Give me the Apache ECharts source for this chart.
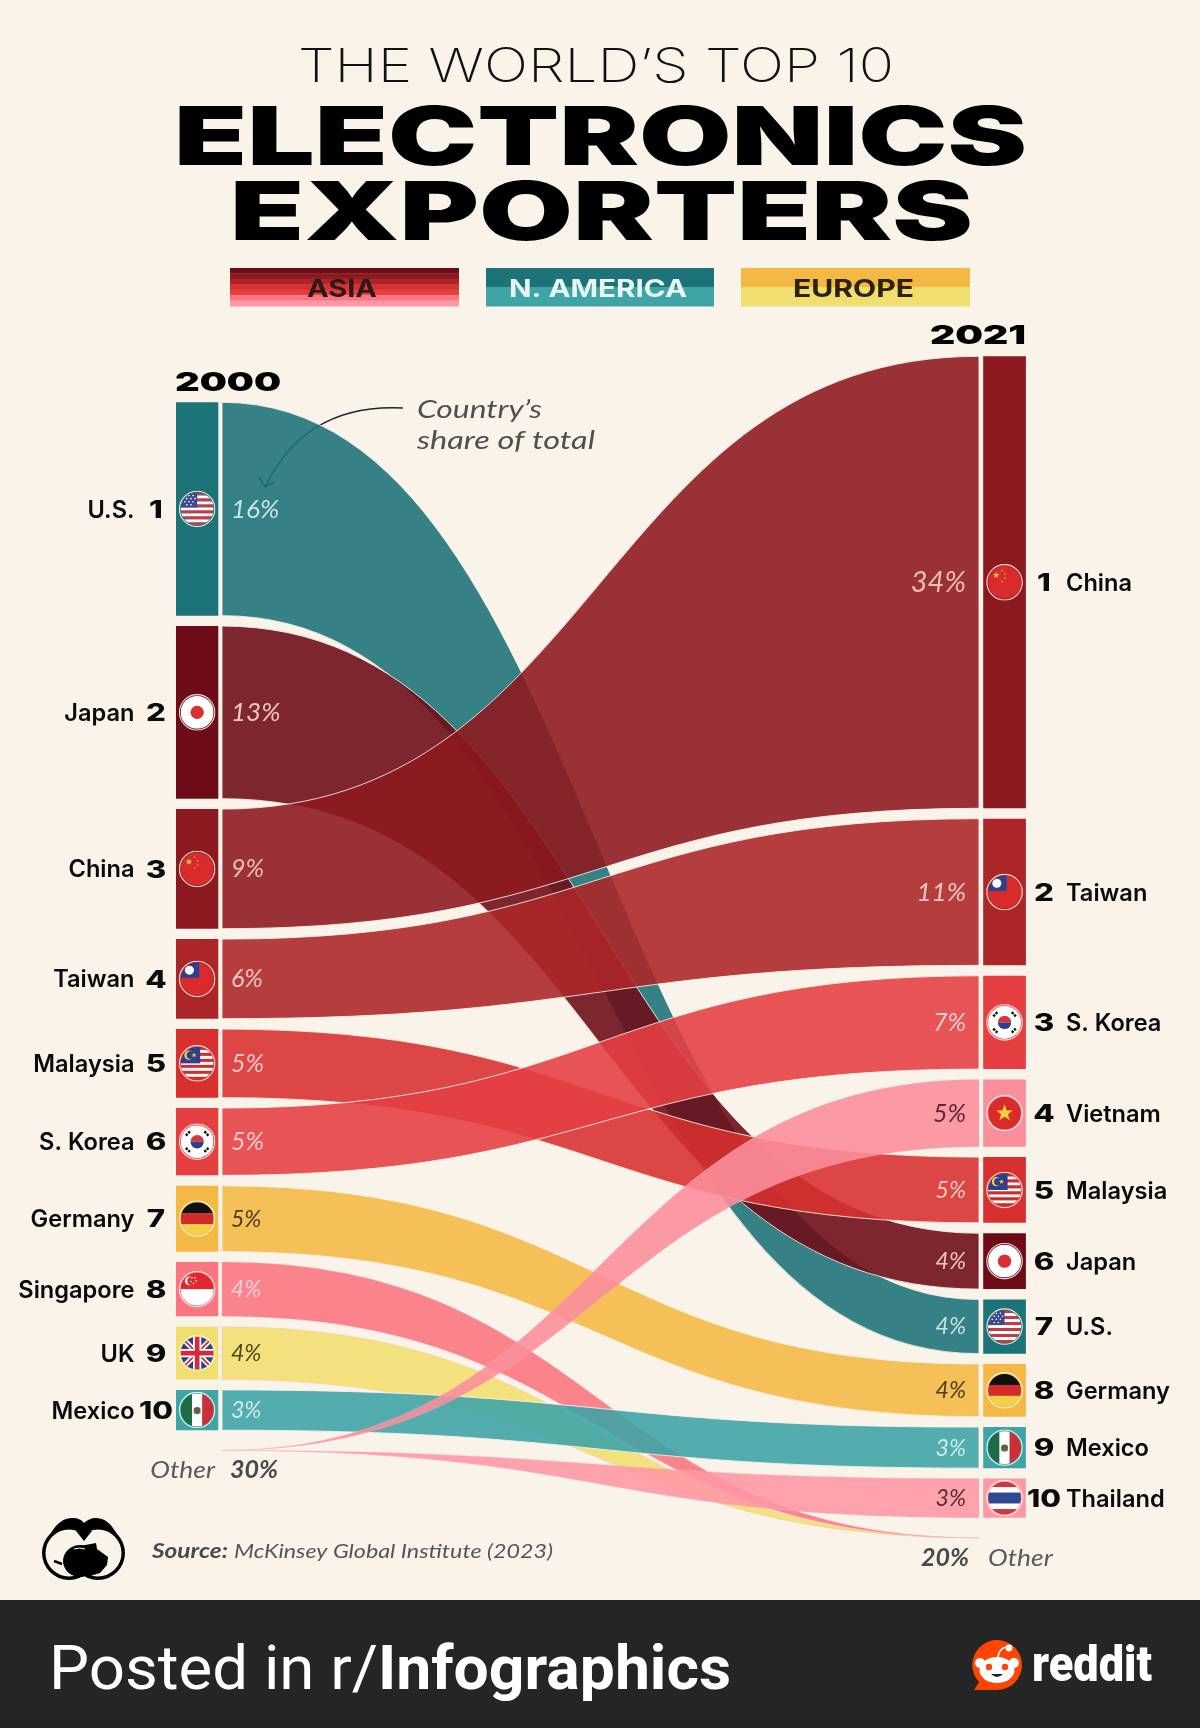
<!DOCTYPE html>
<html><head><meta charset="utf-8">
<style>html,body{margin:0;padding:0;background:#f9f3e9}#c{width:1200px;height:1728px}</style>
<script src="https://cdn.jsdelivr.net/npm/echarts@6/dist/echarts.min.js"></script>
</head><body><div id="c"></div>
<script>
// ---------- data ----------
const countries2000 = ['U.S.','Japan','China','Taiwan','Malaysia','S. Korea','Germany','Singapore','UK','Mexico'];
const shares2000    = [16.0,12.95,8.97,5.97,5.14,5.05,4.94,4.07,3.96,3.02];
const labels2000    = ['16%','13%','9%','6%','5%','5%','5%','4%','4%','3%'];
const countries2021 = ['China','Taiwan','S. Korea','Vietnam','Malaysia','Japan','U.S.','Germany','Mexico','Thailand'];
const shares2021    = [33.9,11.0,7.0,5.04,4.93,4.19,4.06,3.95,3.08,2.93];
const labels2021    = ['34%','11%','7%','5%','5%','4%','4%','4%','3%','3%'];
const otherLabel2000 = '30%';
const otherLabel2021 = '20%';
const years = [2000, 2021];
const legendNames = ['ASIA','N. AMERICA','EUROPE'];

// ---------- styles ----------
const CREAM='#f9f3e9';
const barColor={'U.S.':'#1c7378','Japan':'#6d0c18','China':'#8c191f','Taiwan':'#ac2627','Malaysia':'#d8302f','S. Korea':'#e53f42',
  'Germany':'#f3b944','Singapore':'#fb7680','UK':'#f0de6e','Mexico':'#3ea4a6','Vietnam':'#fb8e9c','Thailand':'#fd98a5'};
const pctColor={'U.S.':'#c4e6e3','Japan':'#f3c4c2','China':'#f0bcb8','Taiwan':'#f3c4c0','Malaysia':'#f8c9c4','S. Korea':'#fbd0cc',
  'Germany':'#4e3a10','Singapore':'#fbd3d3','UK':'#4e4515','Mexico':'#cdebe8','Vietnam':'#5a2a30','Thailand':'#5a2a30'};
const drawOrder=['UK','Singapore','Germany','U.S.','Japan','China','Malaysia','Taiwan','S. Korea','Mexico','Thailand','Vietnam'];
const flowAlpha=0.89;
const UNIT_TOP=356.3, UNIT_PX=13.3333;
const leftStart=3.45, gap=0.78, otherGap=1.52;

function stack(shares,start){let y=start;return shares.map(s=>{const r=[y,y+s];y+=s+gap;return r;});}
const left=stack(shares2000,leftStart), right=stack(shares2021,0);
const leftOther=left[9][1]+otherGap, rightOther=right[9][1]+otherGap;
const flows=drawOrder.map(n=>{
  const a=countries2000.indexOf(n), b=countries2021.indexOf(n);
  return {name:n, l:a>=0?left[a]:[leftOther,leftOther], r:b>=0?right[b]:[rightOther,rightOther], taper:a<0||b<0};
});
const [X0,X1]=years; const XM=(X0+X1)/2;

// ---------- flags ----------
function star(cx,cy,r,fill){let p='';for(let i=0;i<10;i++){const a=-Math.PI/2+i*Math.PI/5,q=i%2?r*0.42:r;p+=(cx+q*Math.cos(a)).toFixed(2)+','+(cy+q*Math.sin(a)).toFixed(2)+' ';}
  return `<polygon points="${p}" fill="${fill}"/>`;}
function stripes(cols){const h=32/cols.length;return cols.map((c,i)=>`<rect x="2" y="${2+i*h}" width="32" height="${h+.1}" fill="${c}"/>`).join('');}
const flagArt={
 'U.S.':()=>stripes(['#c93a45','#fff','#c93a45','#fff','#c93a45','#fff','#c93a45','#fff','#c93a45','#fff','#c93a45'])+'<rect x="2" y="2" width="16" height="14.5" fill="#3b4a8a"/>'+[[6,5],[10,5],[14,5],[8,8],[12,8],[16,8],[6,11],[10,11],[14,11],[8,14],[12,14]].map(p=>`<circle cx="${p[0]}" cy="${p[1]}" r=".8" fill="#fff"/>`).join(''),
 'Japan':()=>'<rect x="2" y="2" width="32" height="32" fill="#fff"/><circle cx="18" cy="18" r="6.5" fill="#d9302f"/>',
 'China':()=>'<rect x="2" y="2" width="32" height="32" fill="#d92b2b"/>'+star(10,11,3.4,'#f5c842')+star(15.5,6.8,1.1,'#f5c842')+star(18.5,10,1.1,'#f5c842')+star(18.5,14,1.1,'#f5c842')+star(15.5,17,1.1,'#f5c842'),
 'Taiwan':()=>'<rect x="2" y="2" width="32" height="32" fill="#d92b2b"/><rect x="2" y="2" width="18" height="15" fill="#2f3f8f"/><circle cx="10.5" cy="9.5" r="4.4" fill="#fff"/>',
 'Malaysia':()=>stripes(['#d22b2b','#fff','#d22b2b','#fff','#d22b2b','#fff','#d22b2b','#fff','#d22b2b','#fff','#d22b2b'])+'<rect x="2" y="2" width="19" height="16" fill="#2c3f8c"/><circle cx="10" cy="10" r="4.5" fill="#f5c842"/><circle cx="11.6" cy="10" r="3.7" fill="#2c3f8c"/>'+star(15,10,2.6,'#f5c842'),
 'S. Korea':()=>'<rect x="2" y="2" width="32" height="32" fill="#fff"/><path d="M11.5 18a6.5 6.5 0 0 1 13 0z" fill="#d9363b"/><path d="M11.5 18a6.5 6.5 0 0 0 13 0z" fill="#2c3f8c"/><g stroke="#111" stroke-width="2.4" stroke-dasharray="2.4 1"><path d="M7 12l4-4M25 8l4 4M7 24l4 4M25 28l4-4"/></g>',
 'Germany':()=>stripes(['#111','#d22b2b','#f5cf4a']),
 'Singapore':()=>'<rect x="2" y="2" width="32" height="16" fill="#e0282e"/><rect x="2" y="18" width="32" height="16" fill="#fff"/><circle cx="10.5" cy="10" r="4.3" fill="#fff"/><circle cx="12.3" cy="10" r="3.9" fill="#e0282e"/>'+[[13,7],[16,7],[17,10],[14.5,12.5],[12,10.5]].map(p=>`<circle cx="${p[0]}" cy="${p[1]}" r=".8" fill="#fff"/>`).join(''),
 'UK':()=>'<rect x="2" y="2" width="32" height="32" fill="#2c3f8c"/><path d="M2 2L34 34M34 2L2 34" stroke="#fff" stroke-width="5"/><path d="M2 2L34 34M34 2L2 34" stroke="#d22b3b" stroke-width="1.8"/><path d="M18 2V34M2 18H34" stroke="#fff" stroke-width="8"/><path d="M18 2V34M2 18H34" stroke="#d22b3b" stroke-width="4.6"/>',
 'Mexico':()=>'<rect x="2" y="2" width="11" height="32" fill="#1e6b47"/><rect x="13" y="2" width="10" height="32" fill="#fff"/><rect x="23" y="2" width="11" height="32" fill="#cf2e36"/><ellipse cx="18" cy="18" rx="3.4" ry="3" fill="#6d5a3d"/><path d="M14.5 20q3.5 3 7 0" stroke="#3c7a50" fill="none"/>',
 'Vietnam':()=>'<rect x="2" y="2" width="32" height="32" fill="#da2a2a"/>'+star(18,18,8.5,'#f7d038'),
 'Thailand':()=>stripes(['#c93a45','#fff','#2d4a94','#2d4a94','#fff','#c93a45'])
};
function flagImage(name){
  const svg=`<svg xmlns="http://www.w3.org/2000/svg" width="72" height="72" viewBox="0 0 36 36"><defs><clipPath id="k"><circle cx="18" cy="18" r="16"/></clipPath></defs><g clip-path="url(#k)">${flagArt[name]()}</g><circle cx="18" cy="18" r="17.2" fill="none" stroke="#fbf4ea" stroke-width="1.1" opacity=".9"/></svg>`;
  return 'data:image/svg+xml;charset=utf-8,'+encodeURIComponent(svg);
}
const logoSvg=`<svg xmlns="http://www.w3.org/2000/svg" width="220" height="170" viewBox="0 0 110 85"><circle cx="39" cy="48" r="27" fill="#000"/><circle cx="68" cy="48" r="27" fill="#000"/><path d="M14 42C20 28 28 13 42 13C48 13 52 15 54 18C57 15 61 13 66 13C80 13 87 28 93 42L54 60z" fill="#000"/><circle cx="39" cy="48" r="23.5" fill="#f9f3e9"/><circle cx="68" cy="48" r="23.5" fill="#f9f3e9"/><path d="M46 26 Q54 24 62 26 L54 36z" fill="#000"/><ellipse cx="50" cy="56" rx="17" ry="16" fill="#000"/><path d="M50 41L66 38L67 44L78 52L77 60L70 68L60 71L50 71z" fill="#000"/><path d="M44 44q6-2 11 0" stroke="#f9f3e9" stroke-width="1" fill="none"/><path d="M24 56l8 3" stroke="#000" stroke-width="2.5"/></svg>`;
const snooSvg=`<svg xmlns="http://www.w3.org/2000/svg" width="104" height="112" viewBox="0 0 52 56"><path d="M26 1A25 25 0 0 1 26 51H3L8 43A25 25 0 0 1 26 1z" fill="#ff4500"/><path d="M27 18Q28 9 36 8" stroke="#fff" stroke-width="1.6" fill="none"/><circle cx="38" cy="9" r="3.4" fill="#fff"/><circle cx="9" cy="24" r="5" fill="#fff"/><circle cx="43" cy="24" r="5" fill="#fff"/><ellipse cx="26" cy="31" rx="17.5" ry="13" fill="#fff"/><circle cx="18" cy="28" r="3.2" fill="#ff4500"/><circle cx="34" cy="28" r="3.2" fill="#ff4500"/><path d="M20 35q6 6 12 0z" fill="#222"/></svg>`;
function uri(s){return 'data:image/svg+xml;charset=utf-8,'+encodeURIComponent(s);}

// ---------- text helper ----------
const mctx=document.createElement('canvas').getContext('2d');
function fit(text,font,x0,x1,cy,fill){
  mctx.font=font; const w=mctx.measureText(text).width;
  return {type:'text',x:x0,y:cy,scaleX:(x1-x0)/w,silent:true,
    style:{text,font,fill,align:'left',verticalAlign:'middle',textAlign:'left',textVerticalAlign:'middle'}};
}
function txt(text,font,x,y,fill,align,scaleX){
  const o={type:'text',x,y,silent:true,style:{text,font,fill,align:align||'left',verticalAlign:'middle',textAlign:align||'left',textVerticalAlign:'middle'}};
  if(scaleX)o.scaleX=scaleX; return o;
}
const pctFont=(s,bold)=>`italic ${bold?700:400} ${s>=30?29:s>=10?26:s>=5?25:23}px Lato, "Open Sans", sans-serif`;
const NAME_FONT='600 23.6px Inter, "Noto Sans", sans-serif', RANK_FONT='800 24px Inter, "Noto Sans", sans-serif';

// ---------- legend stripes ----------
const legendStripes=[
  ['#6d0c18','#8c191f','#ac2627','#d8302f','#e53f42','#fb7680','#fd98a5'],
  ['#1c7378','#3ea4a6'],
  ['#f3b944','#f0de6e']
];
const legendX=[[230,459],[486,714],[741,970]];
const legendTextX=[[307,377],[509,687],[793,914]];
const legendTextCol=['#2c1a1a','#e9f5f1','#2c2208'];
const graphics=[];
graphics.push({type:'rect',silent:true,shape:{x:0,y:1600,width:1200,height:128},style:{fill:'#252525'}});
legendStripes.forEach((cols,i)=>{
  const h=38/cols.length;
  cols.forEach((c,j)=>graphics.push({type:'rect',silent:true,shape:{x:legendX[i][0],y:268+j*h,width:legendX[i][1]-legendX[i][0],height:h+.4},style:{fill:c}}));
  graphics.push(fit(legendNames[i],'700 24px Inter, sans-serif',legendTextX[i][0],legendTextX[i][1],290,legendTextCol[i]));
});
graphics.push(fit("THE WORLD\u2019S TOP 10",'200 47px Inter, sans-serif',298,894,68,'#111'));
graphics.push(fit('ELECTRONICS','900 81px Inter, sans-serif',174,1027,141,'#000'));
graphics.push(fit('EXPORTERS','900 81px Inter, sans-serif',230,973,216,'#000'));
graphics.push(fit(String(years[0]),'900 26px Inter, sans-serif',175,281,383,'#000'));
graphics.push(fit(String(years[1]),'900 26px Inter, sans-serif',930,1026,336,'#000'));
graphics.push(fit("Country\u2019s",'italic 400 25px Lato, sans-serif',417,542,410,'#4f4f4f'));
graphics.push(fit('share of total','italic 400 25px Lato, sans-serif',417,595,441,'#4f4f4f'));
graphics.push({type:'bezierCurve',silent:true,shape:{x1:403,y1:408,cpx1:345,cpy1:405,cpx2:295,cpy2:425,x2:265,y2:487},style:{fill:'none',stroke:'#1e2a2a',lineWidth:1.5}});
graphics.push({type:'polyline',silent:true,shape:{points:[[259,477],[265,487],[275,482]]},style:{fill:'none',stroke:'#1e2a2a',lineWidth:1.5}});
graphics.push(fit('Source:','italic 700 20px Lato, sans-serif',152,228,1552,'#4a4a4a'));
graphics.push(fit('McKinsey Global Institute (2023)','italic 400 20px Lato, sans-serif',234,553,1552,'#555'));
graphics.push({type:'image',silent:true,style:{image:uri(logoSvg),x:30,y:1505,width:110,height:85}});
graphics.push({type:'image',silent:true,style:{image:uri(snooSvg),x:971,y:1639,width:52,height:56}});
graphics.push(fit('Posted in r/','400 62px Roboto, sans-serif',49,378,1673,'#fff'));
graphics.push(fit('Infographics','700 62px Roboto, sans-serif',378,731,1673,'#fff'));
graphics.push(fit('reddit','900 50px Roboto, sans-serif',1032,1152,1668,'#fff'));

// ---------- chart ----------
const nodes=[
  ...countries2000.map((n,i)=>({n,side:0,rank:i+1,span:left[i],share:shares2000[i],label:labels2000[i]})),
  ...countries2021.map((n,i)=>({n,side:1,rank:i+1,span:right[i],share:shares2021[i],label:labels2021[i]}))
];
function renderFlow(params,api){
  const f=flows[api.value(0)];
  const c=(x,y)=>{const p=api.coord([x,y]);return p[0].toFixed(2)+' '+p[1].toFixed(2);};
  const d=`M${c(X0,f.l[0])}C${c(XM,f.l[0])} ${c(XM,f.r[0])} ${c(X1,f.r[0])}L${c(X1,f.r[1])}C${c(XM,f.r[1])} ${c(XM,f.l[1])} ${c(X0,f.l[1])}Z`;
  return {type:'path',shape:{pathData:d},
    style:{fill:barColor[f.name],stroke:f.taper?'#f6b5bc':CREAM,lineWidth:f.taper?0.5:1,strokeOpacity:f.taper?0.7:0.85,fillOpacity:flowAlpha}};
}
function renderNode(params,api){
  const nd=nodes[api.value(0)];
  const p0=api.coord([years[nd.side],nd.span[0]]), p1=api.coord([years[nd.side],nd.span[1]]);
  const cy=(p0[1]+p1[1])/2, bx=nd.side?p0[0]+4.2:p0[0]-46, bw=nd.side?42.7:42.3, cx=bx+bw/2, ty=cy+1.5;
  const children=[
    {type:'rect',shape:{x:bx,y:p0[1],width:bw,height:p1[1]-p0[1]},style:{fill:barColor[nd.n]}},
    {type:'image',style:{image:flagImage(nd.n),x:cx-18.5,y:cy-18.5,width:37,height:37}}
  ];
  const pf=pctFont(nd.share);
  if(nd.side===0){
    children.push(txt(nd.n,NAME_FONT,134.5,ty,'#0b0b0b','right'));
    children.push(txt(String(nd.rank),RANK_FONT,156,ty,'#0b0b0b','center',nd.rank===10?1.25:1.3));
    children.push(txt(nd.label,pf,231,cy+.5,pctColor[nd.n],'left'));
  }else{
    children.push(txt(String(nd.rank),RANK_FONT,1044,ty,'#0b0b0b','center',nd.rank===10?1.25:1.3));
    children.push(txt(nd.n,NAME_FONT,1066,ty,'#0b0b0b','left'));
    children.push(txt(nd.label,pf,966,cy+.5,pctColor[nd.n],'right'));
  }
  return {type:'group',children};
}
function renderOther(params,api){
  const i=api.value(0);
  const p=api.coord([years[i],i?rightOther:leftOther]);
  const f=pctFont(5,true), g='italic 400 24px Lato, sans-serif';
  return {type:'group',children:i===0?[
    txt('Other',g,p[0]-7,p[1]+19.5,'#5a5a5a','right',1.1),
    txt(otherLabel2000,f,p[0]+8,p[1]+19.5,'#4a4a4a','left')
  ]:[
    txt(otherLabel2021,f,p[0]-10,p[1]+20,'#4a4a4a','right'),
    txt('Other',g,p[0]+9,p[1]+20,'#5a5a5a','left',1.1)
  ]};
}
const chart=echarts.init(document.getElementById('c'),null,{renderer:'canvas',width:1200,height:1728});
chart.setOption({
  backgroundColor:CREAM,
  animation:false,
  grid:{left:222,right:221,top:UNIT_TOP,height:90*UNIT_PX},
  xAxis:{type:'value',min:X0,max:X1,show:false},
  yAxis:{type:'value',min:0,max:90,inverse:true,show:false},
  tooltip:{show:false},
  graphic:{elements:graphics},
  series:[
    {type:'custom',name:'flows',clip:false,silent:true,z:2,renderItem:renderFlow,encode:{x:1,y:2},data:flows.map((f,i)=>[i,X0,f.l[0]])},
    {type:'custom',name:'nodes',clip:false,silent:true,z:3,renderItem:renderNode,encode:{x:1,y:2},data:nodes.map((n,i)=>[i,years[n.side],n.span[0]])},
    {type:'custom',name:'other',clip:false,silent:true,z:3,renderItem:renderOther,encode:{x:1,y:2},data:[[0,X0,leftOther],[1,X1,rightOther]]}
  ]
});
</script></body></html>
